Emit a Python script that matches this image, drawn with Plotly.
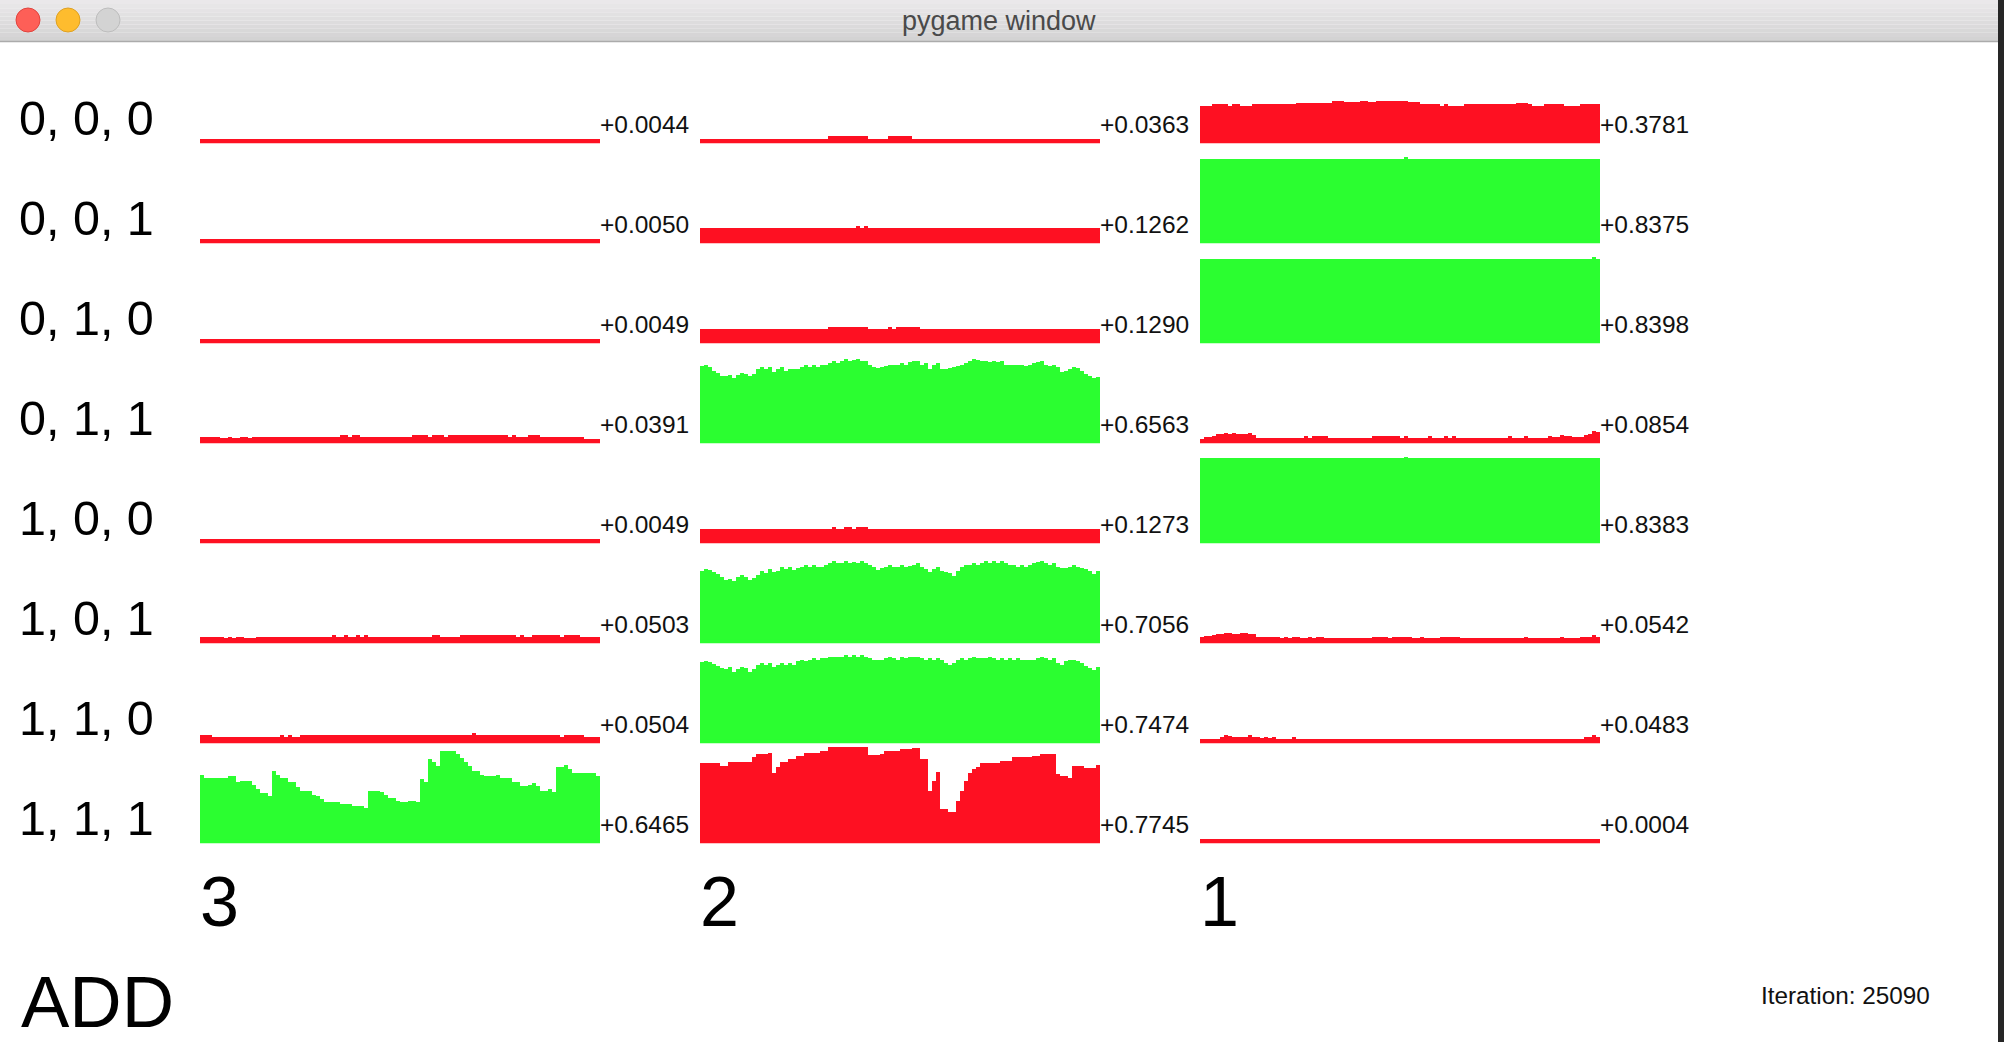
import plotly.graph_objects as go

W, H = 2004, 1042

# ---------------- data ----------------
row_labels = ["0, 0, 0", "0, 0, 1", "0, 1, 0", "0, 1, 1", "1, 0, 0", "1, 0, 1", "1, 1, 0", "1, 1, 1"]
column_labels = ["3", "2", "1"]
title_text = "ADD"
iteration_text = "Iteration: 25090"
window_title = "pygame window"

# mean labels per column (top row to bottom row)
means_3 = [0.0044, 0.0050, 0.0049, 0.0391, 0.0049, 0.0503, 0.0504, 0.6465]
means_2 = [0.0363, 0.1262, 0.1290, 0.6563, 0.1273, 0.7056, 0.7474, 0.7745]
means_1 = [0.3781, 0.8375, 0.8398, 0.0854, 0.8383, 0.0542, 0.0483, 0.0004]

# panel colour kind per column: "r" red, "g" green
kinds_3 = ["r", "r", "r", "r", "r", "r", "r", "g"]
kinds_2 = ["r", "r", "r", "g", "r", "g", "g", "r"]
kinds_1 = ["r", "g", "g", "r", "g", "r", "r", "r"]

# ---- column "3" histograms (100 bins each) ----
c3_000 = [0.004, 0.004, 0.004, 0.004, 0.004, 0.004, 0.004, 0.004, 0.004, 0.004,
          0.004, 0.004, 0.004, 0.004, 0.004, 0.004, 0.004, 0.004, 0.004, 0.004,
          0.004, 0.004, 0.004, 0.004, 0.004, 0.004, 0.004, 0.004, 0.004, 0.004,
          0.004, 0.004, 0.004, 0.004, 0.004, 0.004, 0.004, 0.004, 0.004, 0.004,
          0.004, 0.004, 0.004, 0.004, 0.004, 0.004, 0.004, 0.004, 0.004, 0.004,
          0.004, 0.004, 0.004, 0.004, 0.004, 0.004, 0.004, 0.004, 0.004, 0.004,
          0.004, 0.004, 0.004, 0.004, 0.004, 0.004, 0.004, 0.004, 0.004, 0.004,
          0.004, 0.004, 0.004, 0.004, 0.004, 0.004, 0.004, 0.004, 0.004, 0.004,
          0.004, 0.004, 0.004, 0.004, 0.004, 0.004, 0.004, 0.004, 0.004, 0.004,
          0.004, 0.004, 0.004, 0.004, 0.004, 0.004, 0.004, 0.004, 0.004, 0.004]
c3_001 = [0.005, 0.005, 0.005, 0.005, 0.005, 0.005, 0.005, 0.005, 0.005, 0.005,
          0.005, 0.005, 0.005, 0.005, 0.005, 0.005, 0.005, 0.005, 0.005, 0.005,
          0.005, 0.005, 0.005, 0.005, 0.005, 0.005, 0.005, 0.005, 0.005, 0.005,
          0.005, 0.005, 0.005, 0.005, 0.005, 0.005, 0.005, 0.005, 0.005, 0.005,
          0.005, 0.005, 0.005, 0.005, 0.005, 0.005, 0.005, 0.005, 0.005, 0.005,
          0.005, 0.005, 0.005, 0.005, 0.005, 0.005, 0.005, 0.005, 0.005, 0.005,
          0.005, 0.005, 0.005, 0.005, 0.005, 0.005, 0.005, 0.005, 0.005, 0.005,
          0.005, 0.005, 0.005, 0.005, 0.005, 0.005, 0.005, 0.005, 0.005, 0.005,
          0.005, 0.005, 0.005, 0.005, 0.005, 0.005, 0.005, 0.005, 0.005, 0.005,
          0.005, 0.005, 0.005, 0.005, 0.005, 0.005, 0.005, 0.005, 0.005, 0.005]
c3_010 = [0.005, 0.005, 0.005, 0.005, 0.005, 0.005, 0.005, 0.005, 0.005, 0.005,
          0.005, 0.005, 0.005, 0.005, 0.005, 0.005, 0.005, 0.005, 0.005, 0.005,
          0.005, 0.005, 0.005, 0.005, 0.005, 0.005, 0.005, 0.005, 0.005, 0.005,
          0.005, 0.005, 0.005, 0.005, 0.005, 0.005, 0.005, 0.005, 0.005, 0.005,
          0.005, 0.005, 0.005, 0.005, 0.005, 0.005, 0.005, 0.005, 0.005, 0.005,
          0.005, 0.005, 0.005, 0.005, 0.005, 0.005, 0.005, 0.005, 0.005, 0.005,
          0.005, 0.005, 0.005, 0.005, 0.005, 0.005, 0.005, 0.005, 0.005, 0.005,
          0.005, 0.005, 0.005, 0.005, 0.005, 0.005, 0.005, 0.005, 0.005, 0.005,
          0.005, 0.005, 0.005, 0.005, 0.005, 0.005, 0.005, 0.005, 0.005, 0.005,
          0.005, 0.005, 0.005, 0.005, 0.005, 0.005, 0.005, 0.005, 0.005, 0.005]
c3_011 = [0.028, 0.028, 0.028, 0.028, 0.028, 0.018, 0.018, 0.035, 0.018, 0.018,
          0.035, 0.035, 0.018, 0.035, 0.035, 0.035, 0.035, 0.035, 0.035, 0.035,
          0.035, 0.035, 0.035, 0.035, 0.035, 0.035, 0.035, 0.035, 0.035, 0.035,
          0.035, 0.035, 0.035, 0.035, 0.035, 0.055, 0.055, 0.035, 0.055, 0.055,
          0.035, 0.035, 0.035, 0.035, 0.035, 0.035, 0.035, 0.035, 0.035, 0.035,
          0.035, 0.035, 0.035, 0.055, 0.055, 0.055, 0.055, 0.035, 0.055, 0.055,
          0.055, 0.035, 0.055, 0.055, 0.055, 0.055, 0.055, 0.055, 0.055, 0.055,
          0.055, 0.055, 0.055, 0.055, 0.055, 0.055, 0.055, 0.035, 0.055, 0.035,
          0.035, 0.035, 0.055, 0.055, 0.055, 0.035, 0.035, 0.035, 0.035, 0.035,
          0.035, 0.035, 0.035, 0.035, 0.035, 0.035, 0.010, 0.010, 0.010, 0.010]
c3_100 = [0.005, 0.005, 0.005, 0.005, 0.005, 0.005, 0.005, 0.005, 0.005, 0.005,
          0.005, 0.005, 0.005, 0.005, 0.005, 0.005, 0.005, 0.005, 0.005, 0.005,
          0.005, 0.005, 0.005, 0.005, 0.005, 0.005, 0.005, 0.005, 0.005, 0.005,
          0.005, 0.005, 0.005, 0.005, 0.005, 0.005, 0.005, 0.005, 0.005, 0.005,
          0.005, 0.005, 0.005, 0.005, 0.005, 0.005, 0.005, 0.005, 0.005, 0.005,
          0.005, 0.005, 0.005, 0.005, 0.005, 0.005, 0.005, 0.005, 0.005, 0.005,
          0.005, 0.005, 0.005, 0.005, 0.005, 0.005, 0.005, 0.005, 0.005, 0.005,
          0.005, 0.005, 0.005, 0.005, 0.005, 0.005, 0.005, 0.005, 0.005, 0.005,
          0.005, 0.005, 0.005, 0.005, 0.005, 0.005, 0.005, 0.005, 0.005, 0.005,
          0.005, 0.005, 0.005, 0.005, 0.005, 0.005, 0.005, 0.005, 0.005, 0.005]
c3_101 = [0.035, 0.035, 0.035, 0.035, 0.035, 0.035, 0.020, 0.035, 0.020, 0.035,
          0.035, 0.020, 0.020, 0.020, 0.035, 0.035, 0.035, 0.035, 0.035, 0.035,
          0.035, 0.035, 0.035, 0.035, 0.035, 0.035, 0.035, 0.035, 0.035, 0.035,
          0.035, 0.035, 0.035, 0.055, 0.035, 0.035, 0.055, 0.035, 0.035, 0.055,
          0.035, 0.055, 0.035, 0.035, 0.035, 0.035, 0.035, 0.035, 0.035, 0.035,
          0.035, 0.035, 0.035, 0.035, 0.035, 0.035, 0.035, 0.035, 0.055, 0.055,
          0.035, 0.035, 0.035, 0.035, 0.035, 0.055, 0.055, 0.055, 0.055, 0.055,
          0.055, 0.055, 0.055, 0.055, 0.055, 0.055, 0.055, 0.055, 0.055, 0.035,
          0.055, 0.035, 0.035, 0.055, 0.055, 0.055, 0.055, 0.055, 0.055, 0.055,
          0.035, 0.055, 0.055, 0.055, 0.055, 0.035, 0.035, 0.035, 0.035, 0.035]
c3_110 = [0.052, 0.052, 0.052, 0.035, 0.035, 0.035, 0.035, 0.035, 0.035, 0.035,
          0.035, 0.035, 0.035, 0.035, 0.035, 0.035, 0.035, 0.035, 0.035, 0.035,
          0.052, 0.035, 0.052, 0.035, 0.035, 0.052, 0.052, 0.052, 0.052, 0.052,
          0.052, 0.052, 0.052, 0.052, 0.052, 0.052, 0.052, 0.052, 0.052, 0.052,
          0.052, 0.052, 0.052, 0.052, 0.052, 0.052, 0.052, 0.052, 0.052, 0.052,
          0.052, 0.052, 0.052, 0.052, 0.052, 0.052, 0.052, 0.052, 0.052, 0.052,
          0.052, 0.052, 0.052, 0.052, 0.052, 0.052, 0.052, 0.052, 0.073, 0.052,
          0.052, 0.052, 0.052, 0.052, 0.052, 0.052, 0.052, 0.052, 0.052, 0.052,
          0.052, 0.052, 0.052, 0.052, 0.052, 0.052, 0.052, 0.052, 0.052, 0.052,
          0.035, 0.052, 0.052, 0.052, 0.052, 0.052, 0.035, 0.035, 0.035, 0.035]
c3_111 = [0.681, 0.642, 0.642, 0.642, 0.642, 0.642, 0.642, 0.663, 0.663, 0.601,
          0.618, 0.618, 0.618, 0.576, 0.531, 0.490, 0.490, 0.455, 0.722, 0.681,
          0.642, 0.642, 0.601, 0.601, 0.556, 0.514, 0.514, 0.514, 0.472, 0.455,
          0.427, 0.392, 0.392, 0.392, 0.392, 0.375, 0.375, 0.375, 0.351, 0.351,
          0.351, 0.330, 0.514, 0.514, 0.514, 0.497, 0.472, 0.434, 0.434, 0.410,
          0.392, 0.392, 0.410, 0.410, 0.392, 0.635, 0.601, 0.844, 0.809, 0.767,
          0.931, 0.931, 0.931, 0.931, 0.896, 0.854, 0.809, 0.767, 0.722, 0.722,
          0.681, 0.663, 0.663, 0.663, 0.681, 0.642, 0.642, 0.642, 0.601, 0.601,
          0.559, 0.559, 0.576, 0.594, 0.559, 0.514, 0.514, 0.531, 0.497, 0.764,
          0.764, 0.785, 0.740, 0.698, 0.698, 0.698, 0.698, 0.698, 0.698, 0.663]

# ---- column "2" histograms ----
c2_000 = [0.010, 0.010, 0.010, 0.010, 0.010, 0.010, 0.010, 0.010, 0.010, 0.010,
          0.010, 0.010, 0.010, 0.010, 0.010, 0.010, 0.010, 0.010, 0.010, 0.010,
          0.010, 0.010, 0.010, 0.010, 0.010, 0.010, 0.010, 0.010, 0.010, 0.010,
          0.010, 0.010, 0.038, 0.038, 0.038, 0.038, 0.038, 0.038, 0.038, 0.038,
          0.038, 0.038, 0.010, 0.010, 0.010, 0.010, 0.010, 0.038, 0.038, 0.038,
          0.038, 0.038, 0.038, 0.010, 0.010, 0.010, 0.010, 0.010, 0.010, 0.010,
          0.010, 0.010, 0.010, 0.010, 0.010, 0.010, 0.010, 0.010, 0.010, 0.010,
          0.010, 0.010, 0.010, 0.010, 0.010, 0.010, 0.010, 0.010, 0.010, 0.010,
          0.010, 0.010, 0.010, 0.010, 0.010, 0.010, 0.010, 0.010, 0.010, 0.010,
          0.010, 0.010, 0.010, 0.010, 0.010, 0.010, 0.010, 0.010, 0.010, 0.010]
c2_001 = [0.122, 0.122, 0.122, 0.122, 0.122, 0.122, 0.122, 0.122, 0.122, 0.122,
          0.122, 0.122, 0.122, 0.122, 0.122, 0.122, 0.122, 0.122, 0.122, 0.122,
          0.122, 0.122, 0.122, 0.122, 0.122, 0.122, 0.122, 0.122, 0.122, 0.122,
          0.122, 0.122, 0.122, 0.122, 0.122, 0.122, 0.122, 0.122, 0.122, 0.143,
          0.122, 0.143, 0.122, 0.122, 0.122, 0.122, 0.122, 0.122, 0.122, 0.122,
          0.122, 0.122, 0.122, 0.122, 0.122, 0.122, 0.122, 0.122, 0.122, 0.122,
          0.122, 0.122, 0.122, 0.122, 0.122, 0.122, 0.122, 0.122, 0.122, 0.122,
          0.122, 0.122, 0.122, 0.122, 0.122, 0.122, 0.122, 0.122, 0.122, 0.122,
          0.122, 0.122, 0.122, 0.122, 0.122, 0.122, 0.122, 0.122, 0.122, 0.122,
          0.122, 0.122, 0.122, 0.122, 0.122, 0.122, 0.122, 0.122, 0.122, 0.122]
c2_010 = [0.115, 0.115, 0.115, 0.115, 0.115, 0.115, 0.115, 0.115, 0.115, 0.115,
          0.115, 0.115, 0.115, 0.115, 0.115, 0.115, 0.115, 0.115, 0.115, 0.115,
          0.115, 0.115, 0.115, 0.115, 0.115, 0.115, 0.115, 0.115, 0.115, 0.115,
          0.115, 0.115, 0.139, 0.139, 0.139, 0.139, 0.139, 0.139, 0.139, 0.139,
          0.139, 0.139, 0.115, 0.115, 0.115, 0.115, 0.115, 0.139, 0.115, 0.139,
          0.139, 0.139, 0.139, 0.139, 0.139, 0.115, 0.115, 0.115, 0.115, 0.115,
          0.115, 0.115, 0.115, 0.115, 0.115, 0.115, 0.115, 0.115, 0.115, 0.115,
          0.115, 0.115, 0.115, 0.115, 0.115, 0.115, 0.115, 0.115, 0.115, 0.115,
          0.115, 0.115, 0.115, 0.115, 0.115, 0.115, 0.115, 0.115, 0.115, 0.115,
          0.115, 0.115, 0.115, 0.115, 0.115, 0.115, 0.115, 0.115, 0.115, 0.115]
c2_011 = [0.767, 0.781, 0.757, 0.722, 0.698, 0.670, 0.670, 0.681, 0.646, 0.677,
          0.698, 0.688, 0.670, 0.688, 0.740, 0.764, 0.740, 0.764, 0.705, 0.740,
          0.757, 0.722, 0.740, 0.740, 0.740, 0.757, 0.781, 0.764, 0.781, 0.764,
          0.781, 0.781, 0.799, 0.819, 0.799, 0.819, 0.840, 0.819, 0.833, 0.844,
          0.826, 0.819, 0.785, 0.764, 0.747, 0.764, 0.774, 0.785, 0.785, 0.785,
          0.799, 0.785, 0.809, 0.819, 0.819, 0.785, 0.802, 0.740, 0.785, 0.802,
          0.740, 0.740, 0.747, 0.757, 0.774, 0.785, 0.799, 0.819, 0.844, 0.833,
          0.826, 0.826, 0.809, 0.826, 0.809, 0.819, 0.785, 0.785, 0.785, 0.785,
          0.785, 0.774, 0.785, 0.799, 0.809, 0.819, 0.785, 0.774, 0.785, 0.757,
          0.705, 0.722, 0.740, 0.764, 0.747, 0.715, 0.688, 0.663, 0.646, 0.660]
c2_100 = [0.115, 0.115, 0.115, 0.115, 0.115, 0.115, 0.115, 0.115, 0.115, 0.115,
          0.115, 0.115, 0.115, 0.115, 0.115, 0.115, 0.115, 0.115, 0.115, 0.115,
          0.115, 0.115, 0.115, 0.115, 0.115, 0.115, 0.115, 0.115, 0.115, 0.115,
          0.115, 0.115, 0.115, 0.139, 0.115, 0.115, 0.139, 0.139, 0.115, 0.139,
          0.139, 0.139, 0.115, 0.115, 0.115, 0.115, 0.115, 0.115, 0.115, 0.115,
          0.115, 0.115, 0.115, 0.115, 0.115, 0.115, 0.115, 0.115, 0.115, 0.115,
          0.115, 0.115, 0.115, 0.115, 0.115, 0.115, 0.115, 0.115, 0.115, 0.115,
          0.115, 0.115, 0.115, 0.115, 0.115, 0.115, 0.115, 0.115, 0.115, 0.115,
          0.115, 0.115, 0.115, 0.115, 0.115, 0.115, 0.115, 0.115, 0.115, 0.115,
          0.115, 0.115, 0.115, 0.115, 0.115, 0.115, 0.115, 0.115, 0.115, 0.115]
c2_101 = [0.722, 0.740, 0.729, 0.705, 0.688, 0.660, 0.625, 0.635, 0.618, 0.660,
          0.681, 0.653, 0.625, 0.646, 0.681, 0.715, 0.698, 0.740, 0.705, 0.722,
          0.757, 0.740, 0.764, 0.729, 0.747, 0.764, 0.781, 0.764, 0.785, 0.764,
          0.764, 0.785, 0.799, 0.819, 0.799, 0.799, 0.819, 0.799, 0.809, 0.799,
          0.819, 0.799, 0.785, 0.764, 0.729, 0.750, 0.764, 0.785, 0.764, 0.764,
          0.785, 0.764, 0.774, 0.785, 0.799, 0.764, 0.740, 0.705, 0.740, 0.764,
          0.722, 0.705, 0.694, 0.670, 0.722, 0.764, 0.785, 0.785, 0.799, 0.785,
          0.799, 0.819, 0.799, 0.819, 0.799, 0.819, 0.799, 0.785, 0.785, 0.764,
          0.785, 0.764, 0.785, 0.799, 0.809, 0.819, 0.799, 0.785, 0.799, 0.757,
          0.750, 0.750, 0.764, 0.785, 0.764, 0.750, 0.740, 0.722, 0.688, 0.722]
c2_110 = [0.809, 0.826, 0.809, 0.792, 0.774, 0.747, 0.740, 0.757, 0.705, 0.740,
          0.764, 0.750, 0.705, 0.740, 0.785, 0.802, 0.785, 0.802, 0.764, 0.785,
          0.802, 0.785, 0.802, 0.785, 0.819, 0.833, 0.819, 0.833, 0.851, 0.833,
          0.851, 0.851, 0.868, 0.868, 0.868, 0.868, 0.885, 0.868, 0.885, 0.868,
          0.885, 0.868, 0.851, 0.833, 0.833, 0.833, 0.851, 0.868, 0.851, 0.833,
          0.868, 0.851, 0.868, 0.868, 0.868, 0.851, 0.833, 0.851, 0.833, 0.851,
          0.833, 0.799, 0.785, 0.802, 0.833, 0.851, 0.833, 0.851, 0.868, 0.851,
          0.851, 0.851, 0.868, 0.851, 0.833, 0.851, 0.833, 0.851, 0.833, 0.851,
          0.833, 0.833, 0.833, 0.833, 0.851, 0.868, 0.851, 0.833, 0.851, 0.802,
          0.785, 0.819, 0.833, 0.833, 0.819, 0.802, 0.774, 0.747, 0.729, 0.764]
c2_111 = [0.802, 0.802, 0.802, 0.802, 0.802, 0.774, 0.774, 0.809, 0.809, 0.809,
          0.809, 0.809, 0.809, 0.861, 0.896, 0.896, 0.896, 0.906, 0.698, 0.764,
          0.809, 0.809, 0.844, 0.844, 0.878, 0.878, 0.906, 0.906, 0.906, 0.906,
          0.931, 0.931, 0.965, 0.965, 0.965, 0.965, 0.965, 0.965, 0.965, 0.972,
          0.972, 0.972, 0.889, 0.889, 0.889, 0.896, 0.931, 0.931, 0.931, 0.931,
          0.948, 0.948, 0.948, 0.958, 0.958, 0.844, 0.844, 0.514, 0.618, 0.705,
          0.323, 0.323, 0.288, 0.288, 0.410, 0.514, 0.618, 0.698, 0.740, 0.757,
          0.802, 0.802, 0.802, 0.802, 0.802, 0.826, 0.826, 0.826, 0.861, 0.861,
          0.861, 0.861, 0.861, 0.878, 0.878, 0.896, 0.896, 0.896, 0.896, 0.688,
          0.670, 0.670, 0.646, 0.767, 0.767, 0.767, 0.750, 0.750, 0.750, 0.785]

# ---- column "1" histograms ----
c1_000 = [0.351, 0.351, 0.351, 0.372, 0.372, 0.372, 0.372, 0.351, 0.372, 0.372,
          0.351, 0.351, 0.351, 0.372, 0.372, 0.372, 0.372, 0.372, 0.372, 0.372,
          0.372, 0.372, 0.372, 0.372, 0.389, 0.389, 0.389, 0.389, 0.389, 0.389,
          0.389, 0.389, 0.389, 0.410, 0.410, 0.410, 0.392, 0.392, 0.392, 0.392,
          0.410, 0.410, 0.392, 0.392, 0.410, 0.410, 0.410, 0.410, 0.410, 0.410,
          0.410, 0.410, 0.392, 0.392, 0.392, 0.372, 0.372, 0.372, 0.372, 0.372,
          0.351, 0.372, 0.351, 0.351, 0.351, 0.351, 0.372, 0.372, 0.372, 0.372,
          0.372, 0.372, 0.372, 0.372, 0.372, 0.372, 0.372, 0.372, 0.372, 0.389,
          0.389, 0.389, 0.372, 0.351, 0.351, 0.351, 0.372, 0.372, 0.372, 0.372,
          0.372, 0.351, 0.351, 0.351, 0.351, 0.372, 0.372, 0.372, 0.372, 0.372]
c1_001 = [0.844, 0.844, 0.844, 0.844, 0.844, 0.844, 0.844, 0.844, 0.844, 0.844,
          0.844, 0.844, 0.844, 0.844, 0.844, 0.844, 0.844, 0.844, 0.844, 0.844,
          0.844, 0.844, 0.844, 0.844, 0.844, 0.844, 0.844, 0.844, 0.844, 0.844,
          0.844, 0.844, 0.844, 0.844, 0.844, 0.844, 0.844, 0.844, 0.844, 0.844,
          0.844, 0.844, 0.844, 0.844, 0.844, 0.844, 0.844, 0.844, 0.844, 0.844,
          0.844, 0.868, 0.844, 0.844, 0.844, 0.844, 0.844, 0.844, 0.844, 0.844,
          0.844, 0.844, 0.844, 0.844, 0.844, 0.844, 0.844, 0.844, 0.844, 0.844,
          0.844, 0.844, 0.844, 0.844, 0.844, 0.844, 0.844, 0.844, 0.844, 0.844,
          0.844, 0.844, 0.844, 0.844, 0.844, 0.844, 0.844, 0.844, 0.844, 0.844,
          0.844, 0.844, 0.844, 0.844, 0.844, 0.844, 0.844, 0.844, 0.844, 0.844]
c1_010 = [0.844, 0.844, 0.844, 0.844, 0.844, 0.844, 0.844, 0.844, 0.844, 0.844,
          0.844, 0.844, 0.844, 0.844, 0.844, 0.844, 0.844, 0.844, 0.844, 0.844,
          0.844, 0.844, 0.844, 0.844, 0.844, 0.844, 0.844, 0.844, 0.844, 0.844,
          0.844, 0.844, 0.844, 0.844, 0.844, 0.844, 0.844, 0.844, 0.844, 0.844,
          0.844, 0.844, 0.844, 0.844, 0.844, 0.844, 0.844, 0.844, 0.844, 0.844,
          0.844, 0.844, 0.844, 0.844, 0.844, 0.844, 0.844, 0.844, 0.844, 0.844,
          0.844, 0.844, 0.844, 0.844, 0.844, 0.844, 0.844, 0.844, 0.844, 0.844,
          0.844, 0.844, 0.844, 0.844, 0.844, 0.844, 0.844, 0.844, 0.844, 0.844,
          0.844, 0.844, 0.844, 0.844, 0.844, 0.844, 0.844, 0.844, 0.844, 0.844,
          0.844, 0.844, 0.844, 0.844, 0.844, 0.844, 0.844, 0.844, 0.861, 0.844]
c1_011 = [0.010, 0.028, 0.028, 0.045, 0.063, 0.063, 0.073, 0.063, 0.073, 0.063,
          0.063, 0.063, 0.073, 0.052, 0.018, 0.018, 0.018, 0.018, 0.018, 0.018,
          0.018, 0.018, 0.018, 0.018, 0.018, 0.018, 0.038, 0.018, 0.038, 0.038,
          0.038, 0.038, 0.018, 0.018, 0.018, 0.018, 0.018, 0.018, 0.018, 0.018,
          0.018, 0.018, 0.018, 0.038, 0.038, 0.038, 0.038, 0.038, 0.038, 0.038,
          0.018, 0.038, 0.018, 0.018, 0.018, 0.018, 0.018, 0.038, 0.018, 0.018,
          0.018, 0.038, 0.018, 0.038, 0.018, 0.018, 0.018, 0.018, 0.018, 0.018,
          0.018, 0.018, 0.018, 0.018, 0.018, 0.018, 0.018, 0.038, 0.018, 0.018,
          0.018, 0.038, 0.018, 0.018, 0.018, 0.018, 0.018, 0.038, 0.028, 0.028,
          0.056, 0.038, 0.038, 0.028, 0.028, 0.028, 0.052, 0.063, 0.090, 0.080]
c1_100 = [0.851, 0.851, 0.851, 0.851, 0.851, 0.851, 0.851, 0.851, 0.851, 0.851,
          0.851, 0.851, 0.851, 0.851, 0.851, 0.851, 0.851, 0.851, 0.851, 0.851,
          0.851, 0.851, 0.851, 0.851, 0.851, 0.851, 0.851, 0.851, 0.851, 0.851,
          0.851, 0.851, 0.851, 0.851, 0.851, 0.851, 0.851, 0.851, 0.851, 0.851,
          0.851, 0.851, 0.851, 0.851, 0.851, 0.851, 0.851, 0.851, 0.851, 0.851,
          0.851, 0.868, 0.851, 0.851, 0.851, 0.851, 0.851, 0.851, 0.851, 0.851,
          0.851, 0.851, 0.851, 0.851, 0.851, 0.851, 0.851, 0.851, 0.851, 0.851,
          0.851, 0.851, 0.851, 0.851, 0.851, 0.851, 0.851, 0.851, 0.851, 0.851,
          0.851, 0.851, 0.851, 0.851, 0.851, 0.851, 0.851, 0.851, 0.851, 0.851,
          0.851, 0.851, 0.851, 0.851, 0.851, 0.851, 0.851, 0.851, 0.851, 0.851]
c1_101 = [0.028, 0.038, 0.038, 0.052, 0.063, 0.063, 0.073, 0.073, 0.063, 0.063,
          0.073, 0.073, 0.063, 0.063, 0.035, 0.035, 0.035, 0.035, 0.035, 0.035,
          0.018, 0.035, 0.018, 0.035, 0.035, 0.018, 0.018, 0.035, 0.018, 0.035,
          0.035, 0.018, 0.018, 0.018, 0.018, 0.018, 0.018, 0.018, 0.018, 0.018,
          0.018, 0.018, 0.018, 0.035, 0.035, 0.035, 0.035, 0.018, 0.035, 0.035,
          0.035, 0.035, 0.035, 0.018, 0.018, 0.035, 0.018, 0.018, 0.018, 0.018,
          0.035, 0.035, 0.035, 0.035, 0.035, 0.018, 0.018, 0.018, 0.018, 0.018,
          0.018, 0.018, 0.018, 0.018, 0.018, 0.018, 0.018, 0.018, 0.018, 0.018,
          0.018, 0.035, 0.018, 0.018, 0.018, 0.018, 0.018, 0.018, 0.018, 0.018,
          0.035, 0.018, 0.018, 0.018, 0.018, 0.035, 0.035, 0.035, 0.052, 0.035]
c1_110 = [0.010, 0.010, 0.010, 0.010, 0.010, 0.035, 0.055, 0.045, 0.035, 0.035,
          0.035, 0.035, 0.055, 0.035, 0.035, 0.021, 0.035, 0.021, 0.035, 0.010,
          0.010, 0.010, 0.010, 0.035, 0.010, 0.010, 0.010, 0.010, 0.010, 0.010,
          0.010, 0.010, 0.010, 0.010, 0.010, 0.010, 0.002, 0.002, 0.002, 0.002,
          0.010, 0.002, 0.010, 0.010, 0.010, 0.010, 0.010, 0.010, 0.010, 0.010,
          0.010, 0.010, 0.010, 0.002, 0.002, 0.010, 0.002, 0.010, 0.010, 0.002,
          0.010, 0.010, 0.010, 0.010, 0.010, 0.010, 0.010, 0.002, 0.002, 0.010,
          0.010, 0.002, 0.010, 0.002, 0.010, 0.010, 0.010, 0.010, 0.010, 0.010,
          0.010, 0.010, 0.010, 0.010, 0.010, 0.002, 0.010, 0.010, 0.010, 0.010,
          0.010, 0.010, 0.010, 0.010, 0.010, 0.010, 0.035, 0.035, 0.055, 0.035]
c1_111 = [0.0004, 0.0004, 0.0004, 0.0004, 0.0004, 0.0004, 0.0004, 0.0004, 0.0004, 0.0004,
          0.0004, 0.0004, 0.0004, 0.0004, 0.0004, 0.0004, 0.0004, 0.0004, 0.0004, 0.0004,
          0.0004, 0.0004, 0.0004, 0.0004, 0.0004, 0.0004, 0.0004, 0.0004, 0.0004, 0.0004,
          0.0004, 0.0004, 0.0004, 0.0004, 0.0004, 0.0004, 0.0004, 0.0004, 0.0004, 0.0004,
          0.0004, 0.0004, 0.0004, 0.0004, 0.0004, 0.0004, 0.0004, 0.0004, 0.0004, 0.0004,
          0.0004, 0.0004, 0.0004, 0.0004, 0.0004, 0.0004, 0.0004, 0.0004, 0.0004, 0.0004,
          0.0004, 0.0004, 0.0004, 0.0004, 0.0004, 0.0004, 0.0004, 0.0004, 0.0004, 0.0004,
          0.0004, 0.0004, 0.0004, 0.0004, 0.0004, 0.0004, 0.0004, 0.0004, 0.0004, 0.0004,
          0.0004, 0.0004, 0.0004, 0.0004, 0.0004, 0.0004, 0.0004, 0.0004, 0.0004, 0.0004,
          0.0004, 0.0004, 0.0004, 0.0004, 0.0004, 0.0004, 0.0004, 0.0004, 0.0004, 0.0004]

col_hists = {
    "3": [c3_000, c3_001, c3_010, c3_011, c3_100, c3_101, c3_110, c3_111],
    "2": [c2_000, c2_001, c2_010, c2_011, c2_100, c2_101, c2_110, c2_111],
    "1": [c1_000, c1_001, c1_010, c1_011, c1_100, c1_101, c1_110, c1_111],
}
col_means = {"3": means_3, "2": means_2, "1": means_1}
col_kinds = {"3": kinds_3, "2": kinds_2, "1": kinds_1}

# ---------------- layout / style ----------------
RED = "rgb(254,16,34)"
GREEN = "rgb(43,254,48)"
FONT = "Liberation Sans, Arial, sans-serif"

COL_LEFT = {"3": 200, "2": 700, "1": 1200}
PANEL_W = 400
ROW0_BASE = 143.5
ROW_STEP = 100
PX_PER_UNIT = 96.0
FLOOR = 4.0 / PX_PER_UNIT  # minimum drawn thickness (in data units)


def fx(px):
    return px / W


def fy(py):
    return 1 - py / H


fig = go.Figure()
layout = dict(
    width=W, height=H,
    margin=dict(l=0, r=0, t=0, b=0),
    paper_bgcolor="white", plot_bgcolor="rgba(0,0,0,0)",
    showlegend=False, hovermode=False, bargap=0,
)
shapes = []
annotations = []

n = 0
for col in column_labels:
    left = COL_LEFT[col]
    for r in range(8):
        n += 1
        vals = col_hists[col][r]
        color = GREEN if col_kinds[col][r] == "g" else RED
        base_px = ROW0_BASE + ROW_STEP * r
        xid = "x" if n == 1 else f"x{n}"
        yid = "y" if n == 1 else f"y{n}"
        fig.add_trace(go.Bar(
            x=list(range(len(vals))), y=vals, width=1,
            marker=dict(color=color, line=dict(width=0)),
            xaxis=xid, yaxis=yid, hoverinfo="skip",
        ))
        top_val = (ROW_STEP - 4.0) / PX_PER_UNIT
        layout["xaxis" if n == 1 else f"xaxis{n}"] = dict(
            domain=[fx(left), fx(left + PANEL_W)], range=[-0.5, len(vals) - 0.5],
            visible=False, fixedrange=True, anchor=yid,
        )
        layout["yaxis" if n == 1 else f"yaxis{n}"] = dict(
            domain=[fy(base_px), fy(base_px - ROW_STEP)], range=[-FLOOR, top_val],
            visible=False, fixedrange=True, anchor=xid,
        )
        # minimum-thickness floor strip of the histogram
        shapes.append(dict(type="rect", xref=xid, yref=yid, x0=-0.5, x1=len(vals) - 0.5,
                           y0=-FLOOR, y1=0.0005, fillcolor=color, line=dict(width=0), layer="above"))
        # mean value label
        annotations.append(dict(
            text="+{:.4f}".format(col_means[col][r]), xref="paper", yref="paper",
            x=fx(left + PANEL_W - 1), y=fy(base_px - 19), xanchor="left", yanchor="middle",
            showarrow=False, borderpad=0, font=dict(family=FONT, size=24.5, color="#111111"),
        ))
    annotations.append(dict(
        text=col, xref="paper", yref="paper", x=fx(left - 1), y=fy(902),
        xanchor="left", yanchor="middle", showarrow=False, borderpad=0,
        font=dict(family=FONT, size=70, color="#000000"),
    ))

for r, lab in enumerate(row_labels):
    annotations.append(dict(
        text=lab, xref="paper", yref="paper", x=fx(18), y=fy(118 + ROW_STEP * r),
        xanchor="left", yanchor="middle", showarrow=False, borderpad=0,
        font=dict(family=FONT, size=48.5, color="#000000"),
    ))

annotations.append(dict(
    text=title_text, xref="paper", yref="paper", x=fx(20), y=fy(1001),
    xanchor="left", yanchor="middle", showarrow=False, borderpad=0,
    font=dict(family=FONT, size=72.5, color="#000000"),
))
annotations.append(dict(
    text=iteration_text, xref="paper", yref="paper", x=fx(1760), y=fy(995.5),
    xanchor="left", yanchor="middle", showarrow=False, borderpad=0,
    font=dict(family=FONT, size=24.3, color="#111111"),
))

# ---- window chrome (title bar) ----
bar_h = 41
bands = 10
c_top = (234, 232, 234)
c_bot = (211, 211, 211)
for i in range(bands):
    t = i / (bands - 1)
    c = tuple(int(round(c_top[k] + (c_bot[k] - c_top[k]) * t)) for k in range(3))
    shapes.append(dict(type="rect", xref="paper", yref="paper",
                       x0=0, x1=fx(1998), y0=fy(bar_h * (i + 1) / bands), y1=fy(bar_h * i / bands),
                       fillcolor="rgb(%d,%d,%d)" % c, line=dict(width=0), layer="above"))
shapes.append(dict(type="line", xref="paper", yref="paper", x0=0, x1=fx(1998),
                   y0=fy(bar_h + 0.5), y1=fy(bar_h + 0.5), line=dict(color="#ababab", width=1.5)))
for cx, fill, edge in [(28, "#fe5f57", "#e0443e"), (68, "#febc2e", "#dea123"), (108, "#d3d3d3", "#bdbdbd")]:
    shapes.append(dict(type="circle", xref="paper", yref="paper",
                       x0=fx(cx - 12), x1=fx(cx + 12), y0=fy(32), y1=fy(8),
                       fillcolor=fill, line=dict(color=edge, width=1), layer="above"))
annotations.append(dict(
    text=window_title, xref="paper", yref="paper", x=fx(999), y=fy(21),
    xanchor="center", yanchor="middle", showarrow=False, borderpad=0,
    font=dict(family=FONT, size=27, color="#4a4a4a"),
))
# right window edge
shapes.append(dict(type="rect", xref="paper", yref="paper", x0=fx(1998), x1=1, y0=0, y1=1,
                   fillcolor="#262626", line=dict(width=0), layer="above"))

layout["shapes"] = shapes
layout["annotations"] = annotations
fig.update_layout(**layout)
fig.write_html("out.html", config={"displayModeBar": False})
